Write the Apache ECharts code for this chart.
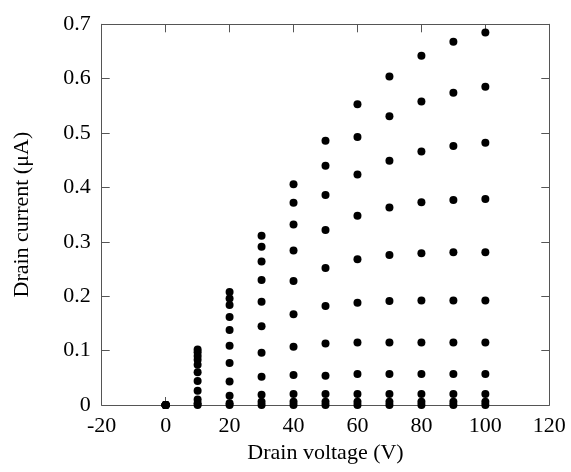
<!DOCTYPE html>
<html>
<head>
<meta charset="utf-8">
<script src="https://cdn.jsdelivr.net/npm/echarts@6/dist/echarts.min.js"></script>
<style>
html,body{margin:0;padding:0;background:#fff;}
#chart{width:571px;height:472px;}
</style>
</head>
<body>
<div id="chart"></div>
<script>
// Drain voltages (V) at which points are measured
const drainVoltages = [0, 10, 20, 30, 40, 50, 60, 70, 80, 90, 100];
// Drain current (µA), one array per gate-bias curve
const curve0  = [0, 0, 0, 0, 0, 0, 0, 0, 0, 0, 0];
const curve1  = [0, 0.003, 0.003, 0.006, 0.006, 0.006, 0.006, 0.006, 0.006, 0.006, 0.006];
const curve2  = [0, 0.010, 0.017, 0.019, 0.020, 0.020, 0.020, 0.020, 0.020, 0.020, 0.020];
const curve3  = [0, 0.026, 0.043, 0.052, 0.055, 0.054, 0.057, 0.057, 0.057, 0.057, 0.057];
const curve4  = [0, 0.044, 0.077, 0.096, 0.107, 0.113, 0.115, 0.115, 0.115, 0.115, 0.115];
const curve5  = [0, 0.060, 0.109, 0.145, 0.167, 0.182, 0.188, 0.191, 0.192, 0.192, 0.192];
const curve6  = [0, 0.074, 0.138, 0.190, 0.228, 0.252, 0.268, 0.276, 0.279, 0.281, 0.281];
const curve7  = [0, 0.083, 0.162, 0.230, 0.284, 0.322, 0.348, 0.363, 0.373, 0.377, 0.379];
const curve8  = [0, 0.090, 0.184, 0.264, 0.332, 0.386, 0.424, 0.449, 0.466, 0.476, 0.482];
const curve9  = [0, 0.097, 0.196, 0.291, 0.372, 0.440, 0.493, 0.531, 0.558, 0.574, 0.585];
const curve10 = [0, 0.102, 0.208, 0.311, 0.406, 0.486, 0.553, 0.604, 0.642, 0.668, 0.685];
const curves = [curve0, curve1, curve2, curve3, curve4, curve5, curve6, curve7, curve8, curve9, curve10];

const xTicks = { min: -20, max: 120, interval: 20 };
const yTicks = { min: 0, max: 0.7, interval: 0.1 };

const FONT = '"Liberation Serif", "Times New Roman", serif';
const axisColor = '#555';

const chart = echarts.init(document.getElementById('chart'), null, { renderer: 'canvas' });

const series = curves.map((c, i) => ({
  type: 'scatter',
  name: 'curve' + i,
  xAxisIndex: 0,
  yAxisIndex: 0,
  symbol: 'circle',
  symbolSize: 8,
  clip: false,
  itemStyle: { color: '#000', opacity: 1 },
  data: drainVoltages.map((v, j) => [v, c[j]])
}));

const baseAxisLine = { show: true, onZero: false, lineStyle: { color: axisColor, width: 1 } };
const baseTick = { show: true, inside: true, length: 8, lineStyle: { color: axisColor, width: 1 } };

chart.setOption({
  animation: false,
  backgroundColor: '#fff',
  grid: { left: 101.7, right: 21.7, top: 24.3, bottom: 67, containLabel: false },
  xAxis: [
    {
      type: 'value', position: 'bottom',
      min: xTicks.min, max: xTicks.max, interval: xTicks.interval,
      name: 'Drain voltage (V)', nameLocation: 'middle', nameGap: 33,
      nameTextStyle: { fontFamily: FONT, fontSize: 22, color: '#000' },
      axisLine: baseAxisLine, axisTick: baseTick,
      axisLabel: { fontFamily: FONT, fontSize: 22, color: '#000', margin: 10 },
      splitLine: { show: false }
    },
    {
      type: 'value', position: 'top',
      min: xTicks.min, max: xTicks.max, interval: xTicks.interval,
      axisLine: baseAxisLine, axisTick: baseTick,
      axisLabel: { show: false }, splitLine: { show: false }
    }
  ],
  yAxis: [
    {
      type: 'value', position: 'left',
      min: yTicks.min, max: yTicks.max, interval: yTicks.interval,
      name: 'Drain current (\u03BCA)', nameLocation: 'middle', nameGap: 68,
      nameTextStyle: { fontFamily: FONT, fontSize: 22, color: '#000' },
      axisLine: baseAxisLine, axisTick: baseTick,
      axisLabel: { fontFamily: FONT, fontSize: 22, color: '#000', margin: 11 },
      splitLine: { show: false }
    },
    {
      type: 'value', position: 'right',
      min: yTicks.min, max: yTicks.max, interval: yTicks.interval,
      axisLine: baseAxisLine, axisTick: baseTick,
      axisLabel: { show: false }, splitLine: { show: false }
    }
  ],
  series: series
});
</script>
</body>
</html>
